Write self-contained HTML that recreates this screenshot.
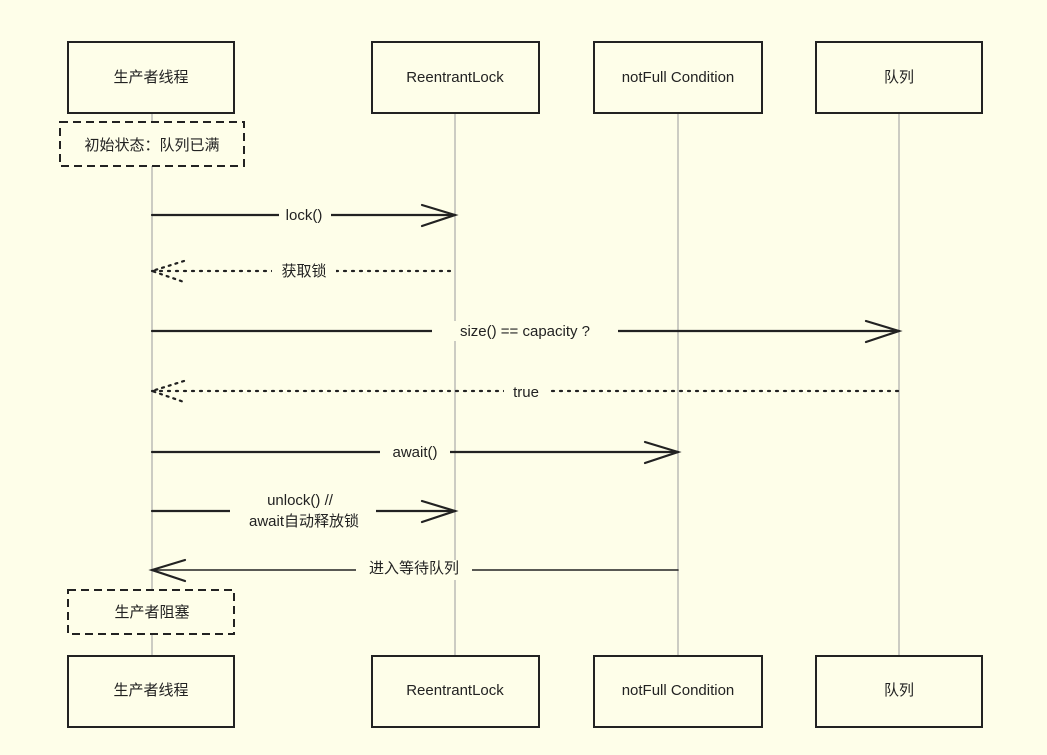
<!DOCTYPE html>
<html><head><meta charset="utf-8"><style>
html,body{margin:0;padding:0;background:#fefee9;}
svg text{font-family:"Liberation Sans","Noto Sans CJK SC",sans-serif;fill:#222;}
</style></head><body>
<svg width="1047" height="750" viewBox="0 0 1047 750" xmlns="http://www.w3.org/2000/svg">
<rect width="1047" height="750" fill="#fefee9"/>
<g stroke="#aaa" stroke-width="1.2">
<line x1="152" y1="113" x2="152" y2="656"/>
<line x1="455" y1="113" x2="455" y2="656"/>
<line x1="678" y1="113" x2="678" y2="656"/>
<line x1="899" y1="113" x2="899" y2="656"/>
</g>
<g fill="#fefee9" stroke="#222" stroke-width="2">
<rect x="68" y="42" width="166" height="71"/>
<rect x="372" y="42" width="167" height="71"/>
<rect x="594" y="42" width="168" height="71"/>
<rect x="816" y="42" width="166" height="71"/>
<rect x="68" y="656" width="166" height="71"/>
<rect x="372" y="656" width="167" height="71"/>
<rect x="594" y="656" width="168" height="71"/>
<rect x="816" y="656" width="166" height="71"/>
</g>
<g fill="#fefee9" stroke="#222" stroke-width="2" stroke-dasharray="8,5">
<rect x="60" y="122" width="184" height="44"/>
<rect x="68" y="590" width="166" height="44"/>
</g>
<g font-size="15" text-anchor="middle">
<text x="151" y="82">生产者线程</text>
<text x="455" y="82">ReentrantLock</text>
<text x="678" y="82">notFull Condition</text>
<text x="899" y="82">队列</text>
<text x="151" y="695">生产者线程</text>
<text x="455" y="695">ReentrantLock</text>
<text x="678" y="695">notFull Condition</text>
<text x="899" y="695">队列</text>
<text x="152" y="150">初始状态：队列已满</text>
<text x="152" y="617">生产者阻塞</text>
</g>
<g stroke="#222" stroke-width="2.2" fill="none" stroke-linecap="round">
<line x1="152" y1="215" x2="455" y2="215"/>
<polyline points="422,205 455,215 422,226"/>
<line x1="152" y1="271" x2="455" y2="271" stroke-dasharray="2,6"/>
<polyline points="184,261 152,271 184,282" stroke-dasharray="2,5"/>
<line x1="152" y1="331" x2="899" y2="331"/>
<polyline points="866,321 899,331 866,342"/>
<line x1="152" y1="391" x2="899" y2="391" stroke-dasharray="2,6"/>
<polyline points="184,381 152,391 184,402" stroke-dasharray="2,5"/>
<line x1="152" y1="452" x2="678" y2="452"/>
<polyline points="645,442 678,452 645,463"/>
<line x1="152" y1="511" x2="455" y2="511"/>
<polyline points="422,501 455,511 422,522"/>
<line x1="152" y1="570" x2="678" y2="570" stroke-width="1.6"/>
<polyline points="185,560 152,570 185,581"/>
</g>
<g fill="#fefee9">
<rect x="279" y="205" width="52" height="20"/>
<rect x="272" y="261" width="64" height="20"/>
<rect x="432" y="321" width="186" height="20"/>
<rect x="504" y="381" width="46" height="20"/>
<rect x="380" y="442" width="70" height="20"/>
<rect x="230" y="488" width="146" height="44"/>
<rect x="356" y="560" width="116" height="20"/>
</g>
<g font-size="15" text-anchor="middle">
<text x="304" y="220">lock()</text>
<text x="304" y="276">获取锁</text>
<text x="525" y="336">size() == capacity ?</text>
<text x="526" y="397">true</text>
<text x="415" y="457">await()</text>
<text x="300" y="505">unlock()  //</text>
<text x="304" y="526">await自动释放锁</text>
<text x="414" y="573">进入等待队列</text>
</g>
</svg>
</body></html>
